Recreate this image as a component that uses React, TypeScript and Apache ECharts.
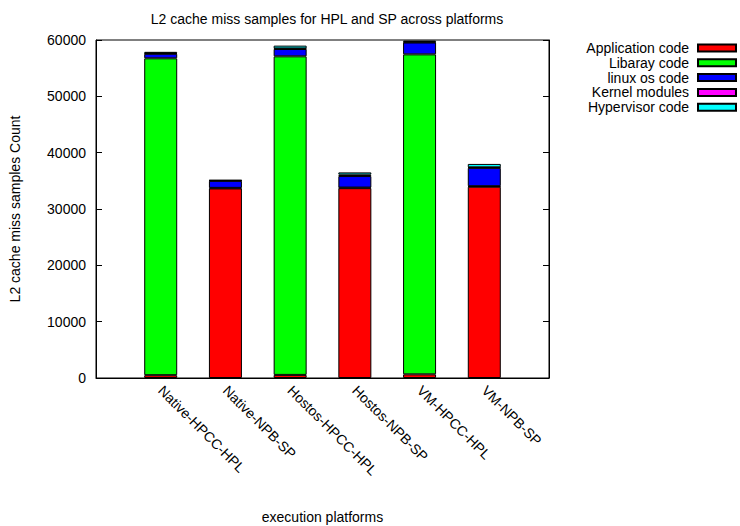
import React, { useEffect, useRef } from "react";
import * as echarts from "echarts";

const categories = ["Native-HPCC-HPL", "Native-NPB-SP", "Hostos-HPCC-HPL", "Hostos-NPB-SP", "VM-HPCC-HPL", "VM-NPB-SP"];
const seriesNames = ["Application code", "Libaray code", "linux os code", "Kernel modules", "Hypervisor code"];
const applicationCode = [500, 33650, 550, 33700, 650, 33950];
const libraryCode = [56250, 100, 56550, 100, 56800, 100];
const linuxOsCode = [800, 1250, 1300, 2050, 2100, 3250];
const kernelModules = [100, 50, 100, 250, 100, 100];
const hypervisorCode = [250, 100, 500, 400, 250, 600];
const colors = ["#ff0000", "#00ff00", "#0000ff", "#ff00ff", "#00ffff"];
const yTicks = { min: 0, max: 60000, interval: 10000 };

const FONT = "'Liberation Sans', Arial, Helvetica, sans-serif";

export default function App() {
  const ref = useRef<HTMLDivElement>(null);
  useEffect(() => {
    if (!ref.current) return;
    const chart = echarts.init(ref.current, null, { renderer: "svg" });
    const values = [applicationCode, libraryCode, linuxOsCode, kernelModules, hypervisorCode];
    const xData = ["", ...categories, ""];
    const series = values.map((vals, i) => ({
      name: seriesNames[i],
      type: "bar",
      stack: "total",
      barWidth: 33,
      data: [null, ...vals, null],
      itemStyle: { color: colors[i], borderColor: "#000", borderWidth: 1 },
    }));
    chart.setOption({
      animation: false,
      textStyle: { fontFamily: FONT },
      title: {
        text: "L2 cache miss samples for HPL and SP across platforms",
        left: 322,
        textAlign: "center",
        top: 7,
        textStyle: { fontSize: 14, fontWeight: "normal", color: "#000", fontFamily: FONT },
      },
      legend: {
        orient: "vertical",
        right: 3,
        top: 41,
        padding: 0,
        align: "right",
        itemWidth: 38,
        itemHeight: 7,
        itemGap: 0.8,
        icon: "rect",
        data: seriesNames,
        formatter: (n: string) => n + "\u00a0",
        textStyle: { fontSize: 14, color: "#000", lineHeight: 14, fontFamily: FONT },
      },
      grid: {
        left: 96, right: 191, top: 40, bottom: 148,
        outerBoundsMode: "none",
        containLabel: false,
        show: true, borderColor: "#000", borderWidth: 1, backgroundColor: "transparent",
      },
      xAxis: {
        type: "category",
        data: xData,
        boundaryGap: false,
        name: "execution platforms",
        nameLocation: "middle",
        nameGap: 132,
        nameTextStyle: { fontSize: 14, color: "#000", fontFamily: FONT },
        axisLine: { lineStyle: { color: "#000" } },
        axisTick: { show: false },
        axisLabel: { rotate: -45, interval: 0, fontSize: 14, color: "#000", margin: 10, fontFamily: FONT },
        splitLine: { show: false },
      },
      yAxis: [
        {
          type: "value",
          min: yTicks.min,
          max: yTicks.max,
          interval: yTicks.interval,
          name: "L2 cache miss samples Count",
          nameLocation: "middle",
          nameGap: 74,
          nameTextStyle: { fontSize: 14, color: "#000", fontFamily: FONT },
          axisLine: { show: true, lineStyle: { color: "#000" } },
          axisTick: { show: true, inside: true, length: 6, lineStyle: { color: "#000" } },
          axisLabel: { fontSize: 14, color: "#000", margin: 10, formatter: (v: number) => String(v), fontFamily: FONT },
          splitLine: { show: false },
        },
        {
          type: "value",
          position: "right",
          min: yTicks.min,
          max: yTicks.max,
          interval: yTicks.interval,
          axisLine: { show: true, lineStyle: { color: "#000" } },
          axisTick: { show: true, inside: true, length: 6, lineStyle: { color: "#000" } },
          axisLabel: { show: false },
          splitLine: { show: false },
        },
      ],
      series,
    });
    return () => chart.dispose();
  }, []);
  return <div ref={ref} style={{ position: "fixed", left: 0, top: 0, width: 740, height: 526, background: "#fff" }} />;
}
